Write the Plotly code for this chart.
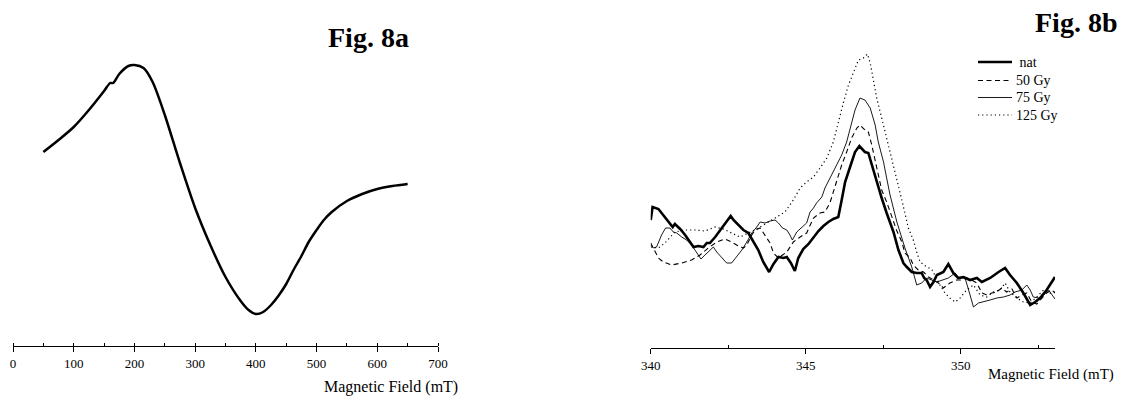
import plotly.graph_objects as go

W, H = 1123, 399
SERIF = "Liberation Serif, Times New Roman, serif"

# ---------- Fig. 8a : broad EPR spectrum ----------
field_a = [50, 75, 100, 125, 150, 160, 165, 175, 190, 200, 215, 230, 250, 275,
           300, 325, 350, 375, 388, 400, 412, 425, 437, 450, 462, 475, 487, 500, 512, 525,
           550, 575, 600, 625, 650]
signal_a = [194, 206, 219, 236, 255, 263, 263, 272, 280, 281, 278, 264, 231, 183,
            138, 101, 69, 45, 36, 32, 34, 41, 50, 62, 76, 90, 104, 116, 126, 134,
            145, 152, 157, 160, 162]
ticks_a = [0, 100, 200, 300, 400, 500, 600, 700]

# ---------- Fig. 8b : narrow signal, four doses ----------
field_nat = [340.00, 340.06, 340.25, 340.41, 340.57, 340.71, 340.78, 340.95, 341.11, 341.27,
             341.38, 341.54, 341.70, 341.81, 341.91, 342.08, 342.24, 342.40, 342.58, 342.67,
             342.83, 342.99, 343.15, 343.31, 343.47, 343.63, 343.82, 343.96, 344.12, 344.28,
             344.39, 344.52, 344.65, 344.76, 344.92, 345.09, 345.25, 345.41, 345.57, 345.73,
             345.89, 346.05, 346.16, 346.27, 346.43, 346.59, 346.73, 346.91, 347.02, 347.13,
             347.24, 347.34, 347.45, 347.61, 347.83, 347.99, 348.15, 348.26, 348.42, 348.58,
             348.74, 348.82, 348.90, 349.01, 349.12, 349.23, 349.44, 349.60, 349.76, 349.92,
             350.09, 350.30, 350.52, 350.68, 350.95, 351.22, 351.43, 351.59, 351.81, 352.02,
             352.24, 352.40, 352.56, 352.77, 353.04]
int_nat = [128, 141, 139, 133, 126, 121, 124, 119, 113, 106,
           101, 102, 101, 105, 105, 111, 118, 125, 132, 128,
           123, 118, 115, 107, 98, 86, 76, 84, 91, 90,
           91, 85, 77, 90, 99, 104, 111, 117, 122, 126,
           129, 131, 148, 166, 181, 196, 202, 196, 195, 183,
           171, 160, 150, 135, 116, 98, 85, 81, 76, 75,
           75, 70, 68, 61, 66, 73, 76, 84, 75, 70,
           71, 68, 70, 66, 70, 76, 80, 73, 65, 55,
           43, 46, 50, 58, 71]

field_50 = [340.00, 340.14, 340.25, 340.41, 340.68, 341.00, 341.32, 341.59, 341.86, 342.13,
            342.40, 342.61, 342.83, 342.99, 343.10, 343.26, 343.37, 343.53, 343.69, 343.85,
            343.96, 344.12, 344.39, 344.60, 344.82, 345.03, 345.25, 345.46, 345.62, 345.78,
            345.95, 346.05, 346.16, 346.32, 346.48, 346.65, 346.75, 346.91, 347.02, 347.13,
            347.24, 347.34, 347.45, 347.61, 347.77, 347.94, 348.10, 348.20, 348.37, 348.47,
            348.63, 348.80, 348.96, 349.28, 349.44, 349.65, 349.87, 350.03, 350.19, 350.35,
            350.52, 350.68, 350.84, 351.00, 351.16, 351.32, 351.48, 351.65, 351.81, 351.97,
            352.13, 352.29, 352.45, 352.61, 352.77, 352.94, 353.04]
int_50 = [105, 96, 90, 86, 83, 85, 88, 93, 100, 106,
          109, 106, 102, 100, 103, 113, 118, 120, 113, 105,
          95, 90, 96, 106, 111, 115, 130, 135, 136, 145,
          162, 173, 183, 196, 210, 220, 223, 218, 216, 203,
          188, 171, 158, 146, 131, 117, 106, 95, 90, 83,
          78, 76, 71, 65, 60, 65, 68, 68, 70, 68,
          65, 55, 53, 55, 56, 60, 56, 59, 50, 53,
          55, 46, 44, 50, 55, 58, 55]

field_75 = [340.00, 340.09, 340.19, 340.35, 340.48, 340.62, 340.73, 340.84, 341.00, 341.16,
            341.32, 341.48, 341.62, 341.75, 341.91, 342.02, 342.13, 342.29, 342.45, 342.61,
            342.77, 342.94, 343.10, 343.26, 343.42, 343.53, 343.69, 343.85, 344.01, 344.12,
            344.25, 344.39, 344.49, 344.57, 344.71, 344.87, 345.03, 345.14, 345.25, 345.35,
            345.52, 345.62, 345.78, 346.00, 346.16, 346.32, 346.43, 346.59, 346.75, 346.91,
            347.08, 347.24, 347.34, 347.51, 347.61, 347.72, 347.94, 348.20, 348.42, 348.58,
            348.74, 348.90, 349.06, 349.23, 349.60, 349.82, 349.92, 350.14, 350.30, 350.41,
            350.57, 350.73, 350.95, 351.16, 351.38, 351.59, 351.75, 351.97, 352.13, 352.24,
            352.34, 352.51, 352.67, 352.83, 352.99, 353.04]
int_75 = [103, 100, 101, 113, 120, 120, 116, 115, 111, 108,
          103, 96, 89, 93, 98, 101, 96, 90, 85, 85,
          91, 98, 106, 115, 121, 126, 125, 127, 128, 125,
          120, 118, 113, 108, 116, 121, 125, 136, 140, 145,
          151, 160, 170, 183, 193, 206, 220, 238, 250, 248,
          240, 223, 206, 186, 170, 153, 126, 100, 81, 63,
          65, 70, 68, 66, 70, 75, 70, 70, 53, 41,
          45, 46, 48, 50, 51, 53, 56, 58, 63, 58,
          51, 50, 53, 58, 51, 49]

field_125 = [340.00, 340.25, 340.46, 340.62, 340.78, 341.11, 341.43, 341.75, 342.08, 342.34,
             342.61, 342.88, 343.15, 343.42, 343.69, 344.06, 344.33, 344.60, 344.82, 345.03,
             345.25, 345.46, 345.68, 345.89, 346.05, 346.22, 346.38, 346.54, 346.70, 346.86,
             346.99, 347.08, 347.18, 347.29, 347.45, 347.61, 347.77, 347.94, 348.10, 348.31,
             348.47, 348.58, 348.69, 348.90, 349.06, 349.33, 349.49, 349.65, 349.82, 349.98,
             350.19, 350.41, 350.62, 350.84, 351.05, 351.27, 351.43, 351.59, 351.81, 352.02,
             352.24, 352.45, 352.67, 352.88, 353.04]
int_125 = [101, 100, 105, 111, 116, 118, 118, 117, 121, 119,
           115, 111, 115, 119, 124, 131, 136, 148, 160, 166,
           171, 180, 190, 206, 226, 246, 263, 276, 288, 290,
           294, 285, 270, 250, 230, 210, 190, 170, 148, 120,
           108, 96, 86, 81, 79, 63, 55, 50, 46, 50,
           58, 63, 53, 51, 56, 58, 65, 56, 50, 46,
           45, 51, 58, 55, 56]

ticks_b = [340, 345, 350]
legend_names = ["nat", "50 Gy", "75 Gy", "125 Gy"]
series_b = [
    (field_nat, int_nat, dict(width=2.6, dash="solid")),
    (field_50, int_50, dict(width=1.1, dash="5px,3.5px")),
    (field_75, int_75, dict(width=0.9, dash="solid")),
    (field_125, int_125, dict(width=1.2, dash="1.2px,3px")),
]

fig = go.Figure()
fig.add_trace(go.Scatter(x=field_a, y=signal_a, mode="lines", xaxis="x", yaxis="y",
                         line=dict(color="black", width=2.5, shape="spline", smoothing=0.8),
                         showlegend=False))
for name, (xs, ys, ln) in zip(legend_names, series_b):
    fig.add_trace(go.Scatter(x=xs, y=ys, mode="lines", name=name, xaxis="x2", yaxis="y2",
                             line=dict(color="black", **ln), showlegend=False))

axis_common = dict(showline=True, linecolor="black", linewidth=1.2, showgrid=False,
                   zeroline=False, ticks="outside", ticklen=5, tickwidth=1.2, tickcolor="black",
                   tickfont=dict(family=SERIF, size=13, color="black"))

fig.update_layout(
    width=W, height=H, autosize=False,
    margin=dict(l=0, r=0, t=0, b=0, pad=0, autoexpand=False),
    paper_bgcolor="white", plot_bgcolor="white",
    font=dict(family=SERIF, color="black"),
    showlegend=False,
    xaxis=dict(domain=[13 / W, 438 / W], range=[0, 700], tickvals=ticks_a,
               minor=dict(dtick=50, ticks="inside", ticklen=3, tickwidth=1, tickcolor="black"),
               anchor="y", **axis_common),
    yaxis=dict(domain=[(H - 346) / H, (H - 40) / H], range=[0, 306], visible=False,
               anchor="x"),
    xaxis2=dict(domain=[650.7 / W, 1055 / W], range=[340, 353.04], tickvals=ticks_b,
                minor=dict(tickvals=[342.5, 347.5, 352.5], ticks="inside", ticklen=3,
                           tickwidth=1, tickcolor="black"),
                anchor="y2", **axis_common),
    yaxis2=dict(domain=[(H - 348) / H, (H - 40) / H], range=[0, 308], visible=False,
                anchor="x2"),
)

# legend drawn as key lines + labels (paper coordinates)
legend_rows_px = [62, 80.5, 97.5, 115]
shapes = []
annotations = []
for (xs, ys, ln), name, ry in zip(series_b, legend_names, legend_rows_px):
    shapes.append(dict(type="line", xref="paper", yref="paper",
                       x0=978 / W, x1=1012 / W, y0=(H - ry) / H, y1=(H - ry) / H,
                       line=dict(color="black", **ln)))
    annotations.append(dict(text=(" " + name) if name == "nat" else name,
                            x=1014 / W, y=(H - ry) / H, xanchor="left", yanchor="middle",
                            font=dict(family=SERIF, size=14, color="black")))

annotations += [
    dict(text="<b>Fig. 8a</b>", x=411 / W, y=(H - 37) / H, xanchor="right", yanchor="middle",
         font=dict(family=SERIF, size=28, color="black")),
    dict(text="<b>Fig. 8b</b>", x=1119 / W, y=(H - 22) / H, xanchor="right", yanchor="middle",
         font=dict(family=SERIF, size=28, color="black")),
    dict(text="Magnetic Field (mT)", x=460 / W, y=(H - 387) / H, xanchor="right",
         yanchor="middle", font=dict(family=SERIF, size=16, color="black")),
    dict(text="Magnetic Field (mT)", x=1116 / W, y=(H - 374) / H, xanchor="right",
         yanchor="middle", font=dict(family=SERIF, size=15, color="black")),
]
for a in annotations:
    a.update(xref="paper", yref="paper", showarrow=False)
fig.update_layout(annotations=annotations, shapes=shapes)

fig.write_html("out.html")
